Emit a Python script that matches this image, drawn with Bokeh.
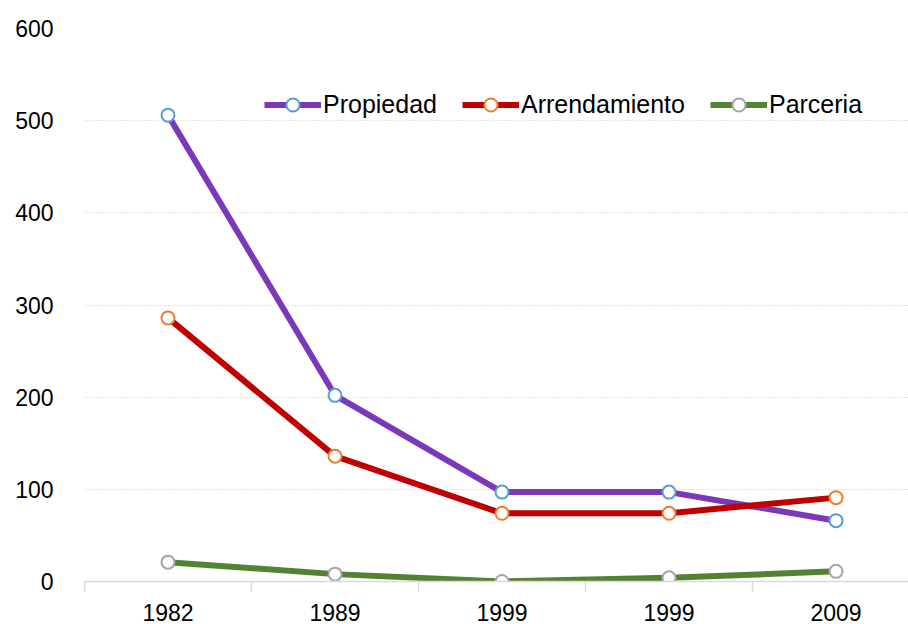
from bokeh.plotting import figure
from bokeh.models import Range1d, FixedTicker, Legend, LegendItem
from bokeh.embed import file_html
from bokeh.resources import INLINE

years = ["1982", "1989", "1999", "1999", "2009"]
propiedad = [506, 202, 97, 97, 66]
arrendamiento = [286, 136, 74, 74, 91]
parceria = [21, 8, 0, 4, 11]
series_names = ["Propiedad", "Arrendamiento", "Parceria"]
y_ticks = [0, 100, 200, 300, 400, 500, 600]

xs = list(range(1, len(years) + 1))
FONT = "Liberation Sans"

p = figure(width=908, height=624, output_backend="svg", toolbar_location=None,
           x_range=Range1d(0.5, 5.434), y_range=Range1d(0, 600))
p.min_border_left = 84
p.min_border_right = 0
p.min_border_top = 28
p.min_border_bottom = 43
p.outline_line_color = None
p.background_fill_color = "white"
p.border_fill_color = "white"

# x axis
p.xaxis.ticker = FixedTicker(ticks=xs, minor_ticks=[x - 0.5 for x in xs] + [xs[-1] + 0.5])
p.xaxis.major_label_overrides = {x: y for x, y in zip(xs, years)}
p.xaxis.axis_line_color = "#D9D9D9"
p.xaxis.axis_line_width = 1.5
p.xaxis.major_tick_line_color = None
p.xaxis.major_tick_out = 0
p.xaxis.major_tick_in = 0
p.xaxis.minor_tick_line_color = "#D9D9D9"
p.xaxis.minor_tick_line_width = 1.5
p.xaxis.minor_tick_out = 10
p.xaxis.minor_tick_in = 0
p.xaxis.major_label_text_font = FONT
p.xaxis.major_label_text_font_size = "23px"
p.xaxis.major_label_text_color = "black"
p.xaxis.major_label_standoff = 12

# y axis
p.yaxis.ticker = FixedTicker(ticks=y_ticks)
p.yaxis.axis_line_color = None
p.yaxis.major_tick_line_color = None
p.yaxis.minor_tick_line_color = None
p.yaxis.major_tick_out = 0
p.yaxis.major_tick_in = 0
p.yaxis.major_label_text_font = FONT
p.yaxis.major_label_text_font_size = "23px"
p.yaxis.major_label_text_color = "black"
p.yaxis.major_label_standoff = 31

p.xgrid.grid_line_color = None
p.ygrid.grid_line_color = "#C8C8C8"
p.ygrid.grid_line_dash = "1 2"
p.ygrid.grid_line_width = 1

line_colors = ["#7B38B8", "#C00000", "#548235"]
marker_colors = ["#5B9BD5", "#ED7D31", "#A5A5A5"]
data = [propiedad, arrendamiento, parceria]

items = []
for name, vals, lc, mc in zip(series_names, data, line_colors, marker_colors):
    l = p.line(xs, vals, line_color=lc, line_width=6)
    s = p.scatter(xs, vals, size=13, fill_color="white", line_color=mc, line_width=2)
    items.append(LegendItem(label=name, renderers=[l, s]))

legend = Legend(items=items, orientation="horizontal", location=(180, 460),
                glyph_width=57, glyph_height=33, label_standoff=2, spacing=25,
                padding=0, margin=0, border_line_color=None,
                background_fill_alpha=0,
                label_text_font=FONT, label_text_font_size="25px",
                label_text_color="black")
p.add_layout(legend, "center")

open("out.html", "w").write(file_html(p, INLINE))
